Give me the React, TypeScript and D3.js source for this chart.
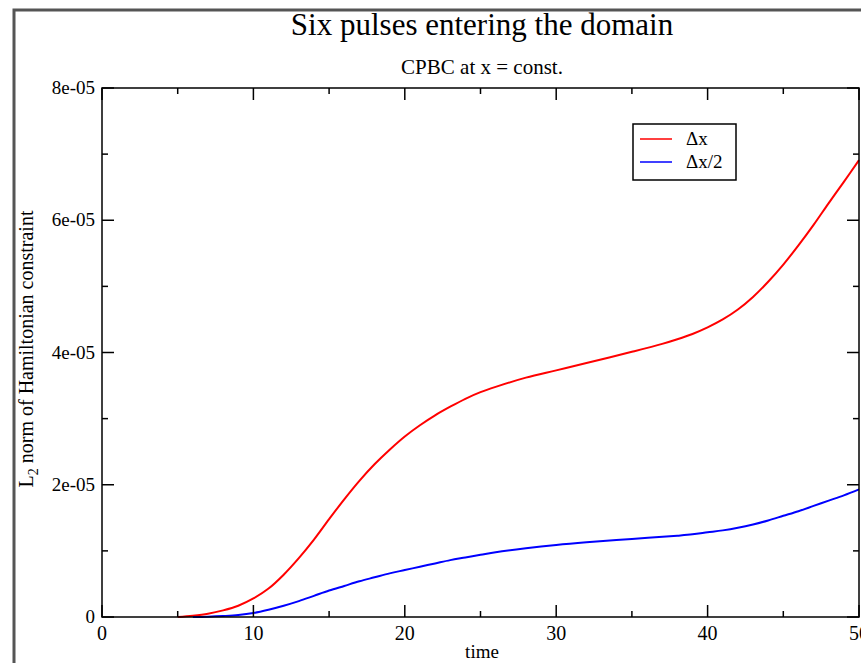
import React from "react";
import * as d3 from "d3";

// axis ticks
const timeTicks = [0, 10, 20, 30, 40, 50];
const timeMinor = [5, 15, 25, 35, 45];
const normTicks = [0, 2e-5, 4e-5, 6e-5, 8e-5];
const normLabels = ["0", "2e-05", "4e-05", "6e-05", "8e-05"];
const normMinor = [1e-5, 3e-5, 5e-5, 7e-5];

// series, norm values in units of 1e-5
const dxTime = [5, 6, 7, 8, 9, 10, 11, 12, 13, 14, 15, 16, 17, 18, 19, 20, 21, 22, 23, 24, 25, 26, 28, 30, 32, 35, 37, 38, 39, 40, 41, 42, 43, 44, 45, 46, 47, 48, 49, 50];
const dxNorm = [0, 0.02, 0.05, 0.1, 0.17, 0.28, 0.43, 0.64, 0.89, 1.17, 1.48, 1.78, 2.06, 2.31, 2.53, 2.73, 2.9, 3.05, 3.18, 3.3, 3.4, 3.48, 3.62, 3.73, 3.84, 4.01, 4.13, 4.2, 4.28, 4.38, 4.5, 4.65, 4.84, 5.07, 5.33, 5.62, 5.93, 6.26, 6.58, 6.91];

const halfTime = [6, 7, 8, 9, 10, 11, 12, 13, 14, 15, 16, 17, 18, 19, 20, 21, 22, 23, 24, 25, 26, 28, 30, 32, 35, 38, 39, 40, 41, 42, 43, 44, 45, 46, 47, 48, 49, 50];
const halfNorm = [0, 0.005, 0.015, 0.03, 0.06, 0.11, 0.17, 0.24, 0.32, 0.4, 0.47, 0.54, 0.6, 0.66, 0.71, 0.76, 0.81, 0.86, 0.9, 0.94, 0.98, 1.04, 1.09, 1.13, 1.18, 1.23, 1.25, 1.28, 1.31, 1.35, 1.4, 1.46, 1.53, 1.6, 1.68, 1.76, 1.84, 1.93];

const series = [
  { name: "\u0394x", color: "#ff0000", t: dxTime, v: dxNorm },
  { name: "\u0394x/2", color: "#0000ff", t: halfTime, v: halfNorm },
];

const W = 861;
const H = 663;
const font = "'Liberation Serif', 'Times New Roman', serif";

export default function App() {
  const x = d3.scaleLinear().domain([0, 50]).range([102, 859]);
  const y = d3.scaleLinear().domain([0, 8e-5]).range([617, 88]);
  const [x0, x1] = x.range();
  const [y0, y1] = y.range();

  const line = d3
    .line<[number, number]>()
    .x((d) => x(d[0]))
    .y((d) => y(d[1] * 1e-5))
    .curve(d3.curveCatmullRom.alpha(0.5));

  return (
    <svg
      width={W}
      height={H}
      style={{ position: "absolute", left: 0, top: 0, background: "#fff" }}
      fontFamily={font}
    >
      {/* outer frame */}
      <rect x={14} y={10} width={W + 20} height={H + 20} fill="none" stroke="#555" strokeWidth={3} />

      <text x={482} y={35} fontSize={31} textAnchor="middle">
        Six pulses entering the domain
      </text>
      <text x={482} y={74} fontSize={21} textAnchor="middle">
        CPBC at x = const.
      </text>

      {series.map((s) => (
        <path
          key={s.name}
          d={line(s.t.map((t, i) => [t, s.v[i]]) as [number, number][]) || ""}
          fill="none"
          stroke={s.color}
          strokeWidth={2}
        />
      ))}

      {/* plot frame */}
      <rect x={x0} y={y1} width={x1 - x0} height={y0 - y1} fill="none" stroke="#000" strokeWidth={1.5} />

      {timeTicks.map((t) => (
        <g key={"xt" + t}>
          <line x1={x(t)} x2={x(t)} y1={y0} y2={y0 - 12} stroke="#000" strokeWidth={1.5} />
          <line x1={x(t)} x2={x(t)} y1={y1} y2={y1 + 12} stroke="#000" strokeWidth={1.5} />
          <text x={x(t)} y={y0 + 23} fontSize={20} textAnchor="middle">
            {t}
          </text>
        </g>
      ))}
      {timeMinor.map((t) => (
        <g key={"xm" + t}>
          <line x1={x(t)} x2={x(t)} y1={y0} y2={y0 - 6} stroke="#000" strokeWidth={1.5} />
          <line x1={x(t)} x2={x(t)} y1={y1} y2={y1 + 6} stroke="#000" strokeWidth={1.5} />
        </g>
      ))}
      {normTicks.map((v, i) => (
        <g key={"yt" + i}>
          <line x1={x0} x2={x0 + 12} y1={y(v)} y2={y(v)} stroke="#000" strokeWidth={1.5} />
          <line x1={x1} x2={x1 - 12} y1={y(v)} y2={y(v)} stroke="#000" strokeWidth={1.5} />
          <text x={x0 - 7} y={y(v) + 6} fontSize={19} textAnchor="end">
            {normLabels[i]}
          </text>
        </g>
      ))}
      {normMinor.map((v, i) => (
        <g key={"ym" + i}>
          <line x1={x0} x2={x0 + 6} y1={y(v)} y2={y(v)} stroke="#000" strokeWidth={1.5} />
          <line x1={x1} x2={x1 - 6} y1={y(v)} y2={y(v)} stroke="#000" strokeWidth={1.5} />
        </g>
      ))}

      <text x={482} y={658} fontSize={19} textAnchor="middle">
        time
      </text>
      <text transform="translate(33,349) rotate(-90)" fontSize={20} textAnchor="middle">
        L<tspan fontSize={14} dy={5}>2</tspan>
        <tspan dy={-5}> norm of Hamiltonian constraint</tspan>
      </text>

      {/* legend */}
      <rect x={633} y={124} width={103} height={56} fill="#fff" stroke="#000" strokeWidth={1.5} />
      {series.map((s, i) => (
        <g key={"lg" + i}>
          <line x1={640} x2={672} y1={139 + i * 23} y2={139 + i * 23} stroke={s.color} strokeWidth={1.5} />
          <text x={686} y={145 + i * 23} fontSize={19}>
            {s.name}
          </text>
        </g>
      ))}
    </svg>
  );
}
